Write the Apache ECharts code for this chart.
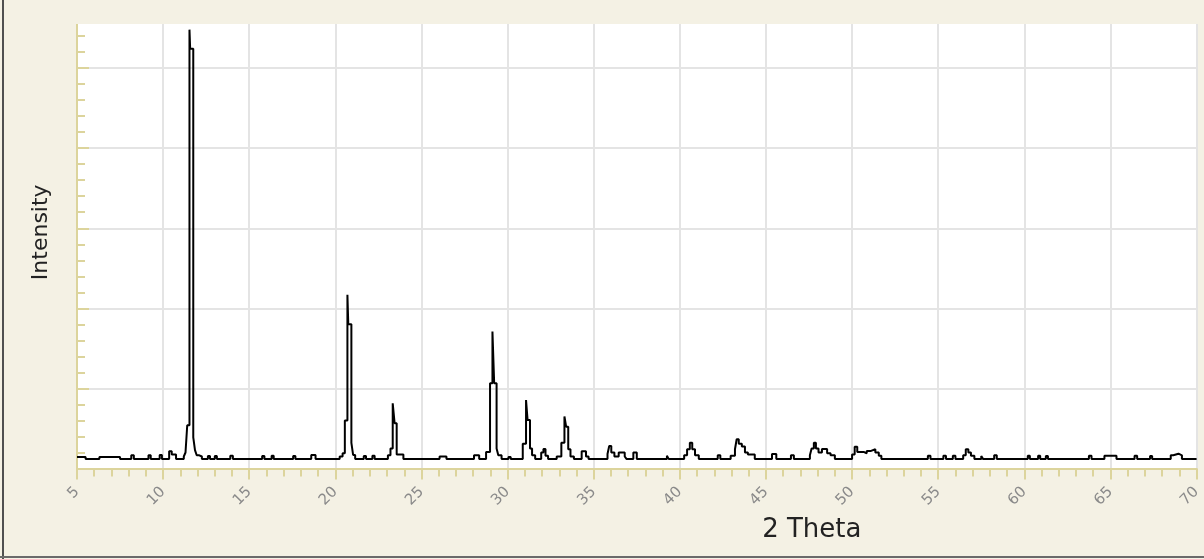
<!DOCTYPE html>
<html>
<head>
<meta charset="utf-8">
<title>XRD</title>
<script src="https://cdn.jsdelivr.net/npm/echarts@6/dist/echarts.min.js"></script>
<style>
  html, body { margin: 0; padding: 0; background: #f4f1e4; overflow: hidden; }
  /* chart is 12px taller and shifted up so the plot top sits above the window */
  #xrd { width: 1204px; height: 571px; margin-top: -12px; }
</style>
</head>
<body>
<div id="xrd"></div>
<script>
// 2 theta positions (deg); repeated positions give the vertical step edges
var theta = [
  5.0, 5.5, 5.5, 6.3, 6.3, 7.5, 7.5, 8.15, 8.15, 8.3, 8.3, 9.15, 9.15, 9.28, 9.28,
  9.8, 9.8, 9.93, 9.93, 10.35, 10.35, 10.5, 10.5, 10.75, 10.75,
  11.2, 11.2, 11.3, 11.3, 11.4, 11.4, 11.53, 11.53, 11.57, 11.57, 11.75, 11.75, 11.85, 11.85, 11.95, 11.95,
  12.1, 12.1, 12.25, 12.25, 12.6, 12.6, 12.72, 12.72, 13.0, 13.0, 13.12, 13.12, 13.9, 13.9, 14.05, 14.05,
  15.75, 15.75, 15.88, 15.88, 16.3, 16.3, 16.42, 16.42, 17.55, 17.55, 17.68, 17.68, 18.6, 18.6, 18.85, 18.85,
  20.25, 20.25, 20.42, 20.42, 20.55, 20.55, 20.7, 20.7, 20.75, 20.75, 20.93, 20.93, 21.03, 21.03, 21.15, 21.15,
  21.65, 21.65, 21.78, 21.78, 22.15, 22.15, 22.28, 22.28,
  23.05, 23.05, 23.2, 23.2, 23.33, 23.33, 23.44, 23.44, 23.56, 23.56, 23.95, 23.95,
  26.05, 26.05, 26.45, 26.45, 28.05, 28.05, 28.35, 28.35,
  28.75, 28.75, 28.98, 28.98, 29.12, 29.12, 29.22, 29.22, 29.36, 29.36, 29.46, 29.46, 29.65, 29.65,
  30.05, 30.05, 30.18, 30.18,
  30.88, 30.88, 31.07, 31.07, 31.16, 31.16, 31.3, 31.3, 31.42, 31.42, 31.6, 31.6,
  31.95, 31.95, 32.08, 32.08, 32.2, 32.2, 32.35, 32.35,
  32.85, 32.85, 33.12, 33.12, 33.3, 33.3, 33.4, 33.4, 33.52, 33.52, 33.65, 33.65, 33.85, 33.85,
  34.3, 34.3, 34.55, 34.55, 34.7, 34.7,
  35.8, 35.8, 35.9, 35.9, 36.02, 36.02, 36.2, 36.2, 36.45, 36.45, 36.8, 36.8, 36.9, 36.9,
  37.3, 37.3, 37.5, 37.5, 39.25, 39.25, 39.35, 39.35,
  40.25, 40.25, 40.42, 40.42, 40.58, 40.58, 40.72, 40.72, 40.88, 40.88, 41.1, 41.1,
  42.2, 42.2, 42.35, 42.35,
  42.95, 42.95, 43.2, 43.2, 43.3, 43.3, 43.42, 43.42, 43.6, 43.6, 43.78, 43.78, 43.95, 43.95, 44.35, 44.35,
  45.35, 45.35, 45.6, 45.6, 46.45, 46.45, 46.62, 46.62,
  47.55, 47.55, 47.65, 47.65, 47.78, 47.78, 47.9, 47.9, 48.05, 48.05, 48.25, 48.25, 48.55, 48.55,
  48.75, 48.75, 49.0, 49.0,
  50.0, 50.0, 50.15, 50.15, 50.3, 50.3, 50.7, 50.7, 50.85, 50.85, 51.1, 51.1, 51.35, 51.35, 51.55, 51.55,
  51.7, 51.7,
  54.4, 54.4, 54.55, 54.55, 55.3, 55.3, 55.45, 55.45, 55.85, 55.85, 56.0, 56.0,
  56.45, 56.45, 56.6, 56.6, 56.75, 56.75, 56.9, 56.9, 57.1, 57.1, 57.5, 57.5, 57.6, 57.6,
  58.25, 58.25, 58.4, 58.4, 60.2, 60.2, 60.32, 60.32, 60.8, 60.8, 60.92, 60.92, 61.25, 61.25, 61.37, 61.37,
  63.75, 63.75, 63.9, 63.9, 64.65, 64.65, 65.35, 65.35, 66.4, 66.4, 66.55, 66.55, 67.3, 67.3, 67.42, 67.42,
  68.5, 68.5, 68.65, 68.65, 68.95, 68.95, 69.15, 69.15, 70.0
];
// intensity (counts) at each theta above
var counts = [
  145, 145, 120, 120, 145, 145, 120, 120, 165, 165, 120, 120, 165, 165, 120,
  120, 170, 170, 120, 120, 215, 215, 175, 175, 120,
  120, 150, 150, 200, 200, 540, 540, 5480, 5480, 5240, 5240, 390, 390, 230, 230, 165,
  165, 150, 150, 120, 120, 155, 155, 120, 120, 155, 155, 120, 120, 160, 160, 120,
  120, 155, 155, 120, 120, 160, 160, 120, 120, 155, 155, 120, 120, 170, 170, 120,
  120, 150, 150, 190, 190, 600, 600, 2170, 2170, 1800, 1800, 320, 320, 170, 170, 120,
  120, 155, 155, 120, 120, 160, 160, 120,
  120, 165, 165, 250, 250, 815, 815, 565, 565, 175, 175, 120,
  120, 150, 150, 120, 120, 165, 165, 120,
  120, 205, 205, 1065, 1065, 1710, 1710, 1065, 1065, 250, 250, 165, 165, 120,
  120, 145, 145, 120,
  120, 310, 310, 855, 855, 605, 605, 250, 250, 165, 165, 120,
  120, 200, 200, 245, 245, 160, 160, 120,
  120, 150, 150, 320, 320, 650, 650, 520, 520, 240, 240, 150, 150, 120,
  120, 215, 215, 150, 150, 120,
  120, 180, 180, 280, 280, 200, 200, 150, 150, 200, 200, 150, 150, 120,
  120, 200, 200, 120, 120, 160, 160, 120,
  120, 165, 165, 240, 240, 322, 322, 240, 240, 165, 165, 120,
  120, 165, 165, 120,
  120, 160, 160, 240, 240, 365, 365, 310, 310, 275, 275, 200, 200, 175, 175, 120,
  120, 180, 180, 120, 120, 165, 165, 120,
  120, 165, 165, 250, 250, 322, 322, 250, 250, 200, 200, 245, 245, 190,
  190, 165, 165, 120,
  120, 175, 175, 272, 272, 205, 205, 190, 190, 220, 220, 240, 240, 200, 200, 160,
  160, 120,
  120, 160, 160, 120, 120, 160, 160, 120, 120, 160, 160, 120,
  120, 165, 165, 240, 240, 200, 200, 160, 160, 120, 120, 155, 155, 120,
  120, 165, 165, 120, 120, 160, 160, 120, 120, 160, 160, 120, 120, 155, 155, 120,
  120, 160, 160, 120, 120, 160, 160, 120, 120, 160, 160, 120, 120, 155, 155, 120,
  120, 165, 165, 185, 185, 165, 165, 120, 120
];
var xTicks = [5, 70, 5];        // min, max, step
var yTicks = [0, 6000, 1000];

var axisYellow = '#dcd49c';
var gridGray = '#e4e4e4';
var paper = '#f4f1e4';

var chart = echarts.init(document.getElementById('xrd'));
chart.setOption({
  animation: false,
  backgroundColor: paper,
  grid: {
    left: 77,
    right: 1,
    top: 0,
    bottom: 90.5,
    show: true,
    backgroundColor: '#ffffff',
    borderWidth: 0
  },
  xAxis: {
    type: 'value',
    min: xTicks[0],
    max: xTicks[1],
    interval: xTicks[2],
    name: '2 Theta',
    nameLocation: 'middle',
    nameGap: 49,
    nameTextStyle: {
      fontFamily: 'DejaVu Sans',
      fontSize: 26,
      color: '#222',
      padding: [0, 0, 0, 350]
    },
    axisLine: { show: true, lineStyle: { color: axisYellow, width: 2 } },
    axisTick: { show: true, length: 11, lineStyle: { color: axisYellow, width: 2 } },
    minorTick: { show: true, splitNumber: 5, length: 8, lineStyle: { color: axisYellow, width: 2 } },
    axisLabel: {
      rotate: 45,
      margin: 21,
      fontFamily: 'DejaVu Sans',
      fontSize: 15,
      color: '#8a8a8a'
    },
    splitLine: { show: true, lineStyle: { color: gridGray, width: 2 } }
  },
  yAxis: {
    type: 'value',
    min: yTicks[0],
    max: yTicks[1],
    interval: yTicks[2],
    name: 'Intensity',
    nameLocation: 'middle',
    nameGap: 25,
    nameTextStyle: {
      fontFamily: 'DejaVu Sans',
      fontSize: 22,
      color: '#222',
      padding: [0, 8, 0, 0]
    },
    axisLine: { show: true, lineStyle: { color: axisYellow, width: 2 } },
    axisTick: { show: true, inside: true, length: 12, lineStyle: { color: axisYellow, width: 2 } },
    minorTick: { show: true, splitNumber: 5, length: 8, lineStyle: { color: axisYellow, width: 2 } },
    axisLabel: { show: false },
    splitLine: { show: true, lineStyle: { color: gridGray, width: 2 } }
  },
  series: [
    {
      type: 'line',
      data: theta.map(function (t, i) { return [t, counts[i]]; }),
      showSymbol: false,
      lineStyle: { color: '#000', width: 2 },
      z: 5
    }
  ],
  graphic: [
    // beige band above the plot and the frame edges
    { type: 'rect', left: 0, top: 0, z: 100, shape: { width: 1204, height: 36 }, style: { fill: paper } },
    { type: 'rect', left: 2, top: 0, z: 101, shape: { width: 2, height: 571 }, style: { fill: '#505050' } },
    { type: 'rect', left: 0, top: 568, z: 101, shape: { width: 1204, height: 2 }, style: { fill: '#6a6a6a' } }
  ]
});
</script>
</body>
</html>
